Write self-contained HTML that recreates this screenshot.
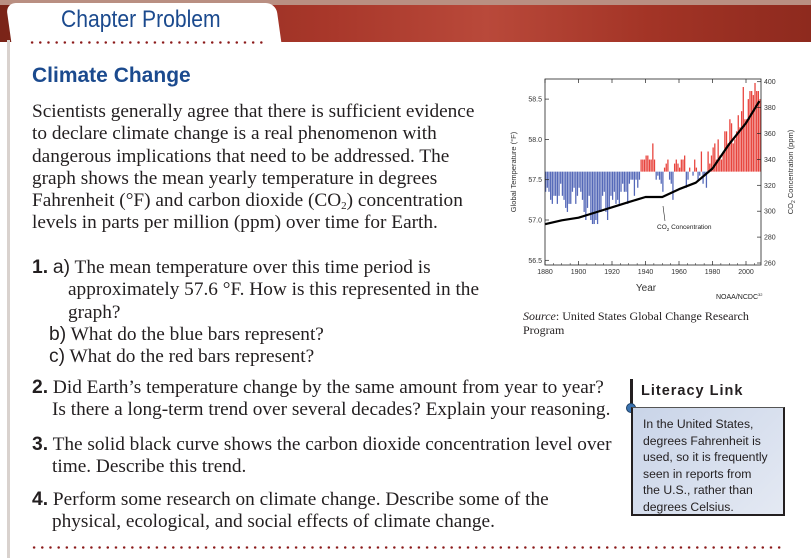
<!DOCTYPE html>
<html><head><meta charset="utf-8"><style>
body{margin:0;width:811px;height:558px;overflow:hidden;background:#fff;position:relative;font-family:"Liberation Serif",serif;color:#231f20}
.a{position:absolute;white-space:nowrap}
.b{font-size:19.3px;line-height:22.3px}
.q{font-size:19.3px;line-height:22.3px}
.s{font-family:"Liberation Sans",sans-serif}
sub{font-size:11px;line-height:0;vertical-align:-3px}
.dots{position:absolute;height:3px;background-image:radial-gradient(circle,#8b1a1a 1.1px,transparent 1.4px);background-size:8.2px 3px}
</style></head><body>
<div class="a" style="left:0;top:0;width:811px;height:42px;background:linear-gradient(90deg,#7a2418,#a8372a 40%,#b9493a 60%,#a33426 80%,#8e2a1e);"></div>
<div class="a" style="left:0;top:0;width:811px;height:5px;background:#b98f82"></div>
<div class="a" style="left:12px;top:3px;width:270px;height:44px;background:#fff;border-radius:10px 10px 0 0;transform:skewX(8deg);transform-origin:bottom"></div>
<div class="a" style="left:7px;top:40px;width:3px;height:518px;background:#d9d2ce"></div>
<div class="a s" style="left:61px;top:6px;font-size:24px;color:#1b4a8e;transform:scaleX(0.88);transform-origin:left">Chapter Problem</div>
<div class="dots" style="left:28px;top:41px;width:238px"></div>
<div class="a s" style="left:32px;top:64px;font-size:21px;font-weight:bold;color:#1b4a8e">Climate Change</div>
<div class="a b" style="left:32px;top:101px">Scientists generally agree that there is sufficient evidence<br>to declare climate change is a real phenomenon with<br>dangerous implications that need to be addressed. The<br>graph shows the mean yearly temperature in degrees<br>Fahrenheit (°F) and carbon dioxide (CO<sub>2</sub>) concentration<br>levels in parts per million (ppm) over time for Earth.</div>
<div class="a q" style="left:32px;top:257px"><b class="s">1.</b> <span class="s">a)</span> The mean temperature over this time period is<br><span style="padding-left:36px">approximately 57.6 °F. How is this represented in the</span><br><span style="padding-left:36px">graph?</span><br><span style="padding-left:17px"><span class="s">b)</span> What do the blue bars represent?</span><br><span style="padding-left:17px"><span class="s">c)</span> What do the red bars represent?</span></div>
<div class="a q" style="left:32px;top:377px"><b class="s">2.</b> Did Earth’s temperature change by the same amount from year to year?<br><span style="padding-left:20px">Is there a long-term trend over several decades? Explain your reasoning.</span></div>
<div class="a q" style="left:32px;top:434px"><b class="s">3.</b> The solid black curve shows the carbon dioxide concentration level over<br><span style="padding-left:20px">time. Describe this trend.</span></div>
<div class="a q" style="left:32px;top:489px"><b class="s">4.</b> Perform some research on climate change. Describe some of the<br><span style="padding-left:20px">physical, ecological, and social effects of climate change.</span></div>
<div class="dots" style="left:30px;top:546px;width:752px"></div>
<div class="a" style="left:630px;top:379px;width:3px;height:30px;background:#231f20"></div>
<div class="a" style="left:626px;top:403px;width:8px;height:8px;border-radius:50%;background:#3b73b0;border:1px solid #1d3f66"></div>
<div class="a s" style="left:641px;top:383px;font-size:14.5px;font-weight:bold;letter-spacing:1px">Literacy Link</div>
<div class="a s" style="left:631px;top:407px;width:140px;height:98px;padding:8px 0 0 10px;background:linear-gradient(135deg,#c9d4e8,#e4e9f3);border:2px solid #231f20;border-top:1px solid #555;font-size:12.2px;line-height:16.5px;white-space:nowrap">In the United States,<br>degrees Fahrenheit is<br>used, so it is frequently<br>seen in reports from<br>the U.S., rather than<br>degrees Celsius.</div>
<div class="a" style="left:523px;top:309px;font-size:12px;line-height:14px"><i>Source</i>: United States Global Change Research<br>Program</div>
<svg class="a" style="left:0;top:0" width="811" height="558" font-family="Liberation Sans, sans-serif">
<g id="bars"></g><g id="axes"></g>
</svg>
<script>
const years=[];for(let y=1880;y<=2008;y++)years.push(y);
const temps=[57.35,57.4,57.35,57.25,57.2,57.3,57.3,57.2,57.3,57.45,
57.3,57.25,57.15,57.1,57.2,57.2,57.35,57.4,57.2,57.3,
57.4,57.35,57.25,57.1,57.0,57.15,57.3,57.0,56.95,56.95,
57.0,56.95,57.1,57.1,57.3,57.35,57.1,57.0,57.15,57.3,
57.25,57.35,57.2,57.25,57.2,57.35,57.45,57.35,57.35,57.2,
57.45,57.5,57.5,57.3,57.5,57.4,57.5,57.75,57.75,57.75,
57.8,57.8,57.75,57.75,57.95,57.75,57.5,57.55,57.5,57.45,
57.35,57.65,57.7,57.75,57.5,57.45,57.25,57.7,57.75,57.7,
57.65,57.75,57.75,57.8,57.4,57.5,57.65,57.6,57.55,57.75,
57.65,57.5,57.55,57.85,57.45,57.55,57.4,57.85,57.7,57.8,
57.9,57.95,57.75,58.0,57.8,57.75,57.85,58.1,58.1,57.95,
58.25,58.2,57.95,58.0,58.1,58.3,58.15,58.35,58.65,58.25,
58.25,58.5,58.6,58.6,58.55,58.7,58.6,58.6,58.5];
const co2Years=[1880,1890,1900,1910,1920,1930,1940,1945,1950,1960,1970,1980,1990,2000,2008];
const co2=[290,293,295,299,303,307,311,311,311,317,322,333,352,368,385];
const baseline=57.6;
const tempTicks=[56.5,57.0,57.5,58.0,58.5];
const co2Ticks=[260,280,300,320,340,360,380,400];
const yearTicks=[1880,1900,1920,1940,1960,1980,2000];
const X=y=>545+(y-1880)*(201/120);
const YT=t=>220-(t-57.0)*80.6;
const YC=c=>263-(c-260)*1.295;
const NS='http://www.w3.org/2000/svg';
function mk(t,a,p){const e=document.createElementNS(NS,t);for(const k in a)e.setAttribute(k,a[k]);p.appendChild(e);return e;}
const bars=document.getElementById('bars'),ax=document.getElementById('axes');
const bw=201/120;
temps.forEach((t,i)=>{const x=X(years[i]),y0=YT(baseline),y1=YT(t);
const r=mk('rect',{x:x,y:Math.min(y0,y1),width:bw-0.4,height:Math.abs(y1-y0),fill:t>=baseline?'#e8433c':'#5468b8'},bars);

});
let d='';co2.forEach((c,i)=>{d+=(i?'L':'M')+X(co2Years[i]).toFixed(1)+' '+YC(c).toFixed(1);});
const line=mk('path',{d:d,fill:'none',stroke:'#000','stroke-width':2.2,'stroke-linejoin':'round'},ax);


const frame=mk('rect',{x:545,y:79,width:216,height:186,fill:'none',stroke:'#222','stroke-width':0.8},ax);


tempTicks.forEach(t=>{const y=YT(t);mk('line',{x1:545,x2:549,y1:y,y2:y,stroke:'#222','stroke-width':0.7},ax);
const tx=mk('text',{x:542,y:y+2.5,'font-size':7,'text-anchor':'end',fill:'#333'},ax);tx.textContent=t.toFixed(1);

});
co2Ticks.forEach(c=>{const y=YC(c);mk('line',{x1:757,x2:761,y1:y,y2:y,stroke:'#222','stroke-width':0.7},ax);
const tx=mk('text',{x:764,y:y+2.5,'font-size':7,fill:'#333'},ax);tx.textContent=c;

});
yearTicks.forEach(y=>{const x=X(y);mk('line',{x1:x,x2:x,y1:265,y2:261,stroke:'#222','stroke-width':0.7},ax);mk('line',{x1:x,x2:x,y1:79,y2:83,stroke:'#222','stroke-width':0.7},ax);
const tx=mk('text',{x:x,y:274,'font-size':7,'text-anchor':'middle',fill:'#333'},ax);tx.textContent=y;

});
for(let y=1885;y<2010;y+=5){if(y%20)mk('line',{x1:X(y),x2:X(y),y1:265,y2:263,stroke:'#222','stroke-width':0.5},ax);}
function lab(txt,a,name){const t=mk('text',a,ax);t.innerHTML=txt;}
lab('Year',{x:646,y:291,'font-size':10,'text-anchor':'middle',fill:'#333'},'x-axis-title');
lab('Global Temperature (°F)',{x:0,y:0,'font-size':7.5,'text-anchor':'middle',fill:'#333',transform:'translate(516,172) rotate(-90)'},'y-axis-title-left');
lab('CO<tspan font-size="5" dy="2">2</tspan><tspan dy="-2"> Concentration (ppm)</tspan>',{x:0,y:0,'font-size':7.5,'text-anchor':'middle',fill:'#333',transform:'translate(793,172) rotate(-90)'},'y-axis-title-right');
lab('CO<tspan font-size="4.5" dy="2">2</tspan><tspan dy="-2"> Concentration</tspan>',{x:657,y:229,'font-size':6.5,fill:'#222'},'co2-annotation');
lab('NOAA/NCDC<tspan font-size="4" dy="-3">32</tspan>',{x:716,y:299,'font-size':7,fill:'#222'},'credit');
mk('line',{x1:665,x2:663,y1:221,y2:206,stroke:'#222','stroke-width':0.6},ax);
</script>
</body></html>
